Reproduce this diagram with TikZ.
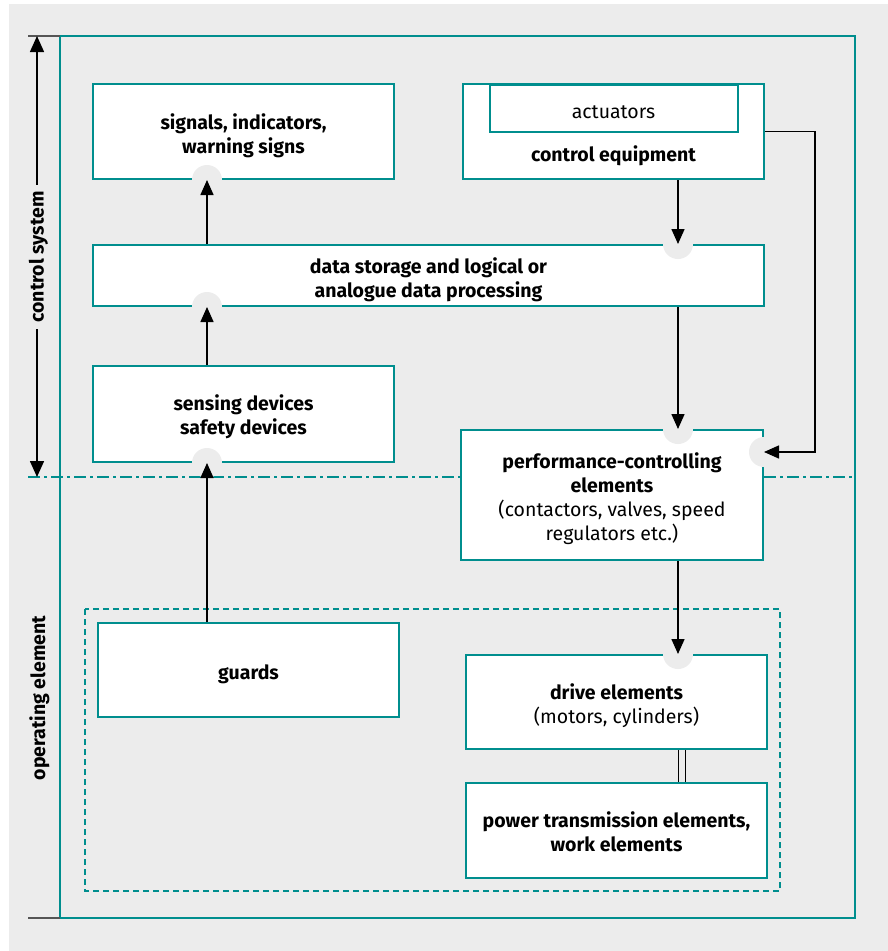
\documentclass[tikz,border=0pt]{standalone}
\usepackage{fontspec}
\setmainfont{Fira Sans}
\usetikzlibrary{arrows.meta,calc}
\definecolor{teal1}{HTML}{008E8E}
\definecolor{bgc}{HTML}{ECECEC}
\definecolor{tick}{HTML}{555555}
\tikzset{
  box/.style={draw=teal1, line width=2pt, fill=white, inner sep=0pt},
  txt/.style={align=center, inner sep=0pt, font=\fontsize{19.5}{24}\selectfont},
  arr/.style={line width=1.5pt, -{Triangle[length=15pt,width=13pt]}},
  notch/.style={fill=bgc},
}
\begin{document}
\begin{tikzpicture}[x=1pt,y=-1pt]
\useasboundingbox (0,0) rectangle (888,951);
\fill[bgc] (9,4) rectangle (888,951);
% outer frame
\draw[teal1, line width=2.8pt] (60,36) rectangle (855,918);
% dash-dot divider
\draw[teal1, line width=1.5pt, dash pattern=on 12pt off 4pt on 3pt off 4pt] (28,477) -- (855,477);
% dashed operating group
\draw[teal1, line width=1.5pt, dash pattern=on 6pt off 4pt] (85,609) rectangle (780,891);

% boxes
\node[box, minimum width=301pt, minimum height=95pt] (sig) at (243.5,131.5) {};
\node[txt] (sigt) at ([yshift=-4pt]sig.center) {\textbf{signals, indicators,}\\\textbf{warning signs}};
\node[box, minimum width=301pt, minimum height=95pt] (ctl) at (613.5,131.5) {};
\node[box, minimum width=248pt, minimum height=47pt] (act) at (613.5,108) {};
\node[txt] (actt) at ([yshift=-4pt]act.center) {actuators};
\node[txt, font=\fontsize{19.5}{24}\selectfont\bfseries] (ctlt) at (613.5,156) {control equipment};
\node[box, minimum width=671pt, minimum height=61pt] (dat) at (428.5,275.5) {};
\node[txt] (datt) at ([yshift=-4.5pt]dat.center) {\textbf{data storage and logical or}\\\textbf{analogue data processing}};
\node[box, minimum width=301pt, minimum height=96pt] (sen) at (243.5,414) {};
\node[txt] (sent) at ([yshift=-3pt]sen.center) {\textbf{sensing devices}\\\textbf{safety devices}};
\node[box, minimum width=302pt, minimum height=130pt] (perf) at (612,495) {};
\node[txt] (perft) at ([yshift=-4pt]perf.center) {\textbf{performance-controlling}\\\textbf{elements}\\(contactors, valves, speed\\regulators etc.)};
\node[box, minimum width=301pt, minimum height=94pt] (grd) at (248.5,670) {};
\node[txt] (grdt) at ([yshift=-4pt]grd.center) {\textbf{guards}};
\node[box, minimum width=301pt, minimum height=94pt] (drv) at (616.5,702) {};
\node[txt] (drvt) at ([yshift=-4pt]drv.center) {\textbf{drive elements}\\(motors, cylinders)};
\node[box, minimum width=301pt, minimum height=95pt] (pwr) at (616.5,830.5) {};
\node[txt] (pwrt) at ([yshift=-1.5pt]pwr.center) {\textbf{power transmission elements,}\\\textbf{work elements}};

% helper coordinates
\coordinate (lx) at (207,0);
\coordinate (rxc) at (678,0);
\coordinate (rx) at (815,452);
\coordinate (dl) at (682,0);

% notches
\fill[notch] (sig.south -| lx) circle (15);
\fill[notch] (dat.south -| lx) circle (15);
\fill[notch] (sen.south -| lx) circle (15);
\fill[notch] (dat.north -| rxc) circle (15);
\fill[notch] (perf.north -| rxc) circle (15);
\fill[notch] (perf.east |- rx) circle (15);
\fill[notch] (drv.north -| rxc) circle (15);

% connectors
\draw[arr] (dat.north -| lx) -- (sig.south -| lx);
\draw[arr] (sen.north -| lx) -- (dat.south -| lx);
\draw[arr] (grd.north -| lx) -- (sen.south -| lx);
\draw[arr] (ctl.south -| rxc) -- (dat.north -| rxc);
\draw[arr] (dat.south -| rxc) -- (perf.north -| rxc);
\draw[arr] (ctl.east) -| (rx) -- (perf.east |- rx);
\draw[arr] (perf.south -| rxc) -- (drv.north -| rxc);
\draw[line width=1.3pt, double=bgc, double distance=5.5pt] (drv.south -| dl) -- (pwr.north -| dl);

% left dimension
\coordinate (dtop) at (37,36);
\coordinate (dbot) at (37,477);
\draw[tick, line width=1.2pt] (28,36) -- (60,36);
\draw[tick, line width=1.2pt] (28,918) -- (60,918);
\draw[line width=1.5pt, {Triangle[length=16pt,width=14pt]}-{Triangle[length=16pt,width=14pt]}] (dtop) -- (dbot);
\node[fill=bgc, rotate=90, inner xsep=7pt, inner ysep=3pt, font=\fontsize{19.5}{20}\selectfont\bfseries] (cs) at (38.5,257) {control system};
\node[rotate=90, font=\fontsize{19.5}{20}\selectfont\bfseries] (oe) at (39.5,698) {operating element};
\end{tikzpicture}
\end{document}
